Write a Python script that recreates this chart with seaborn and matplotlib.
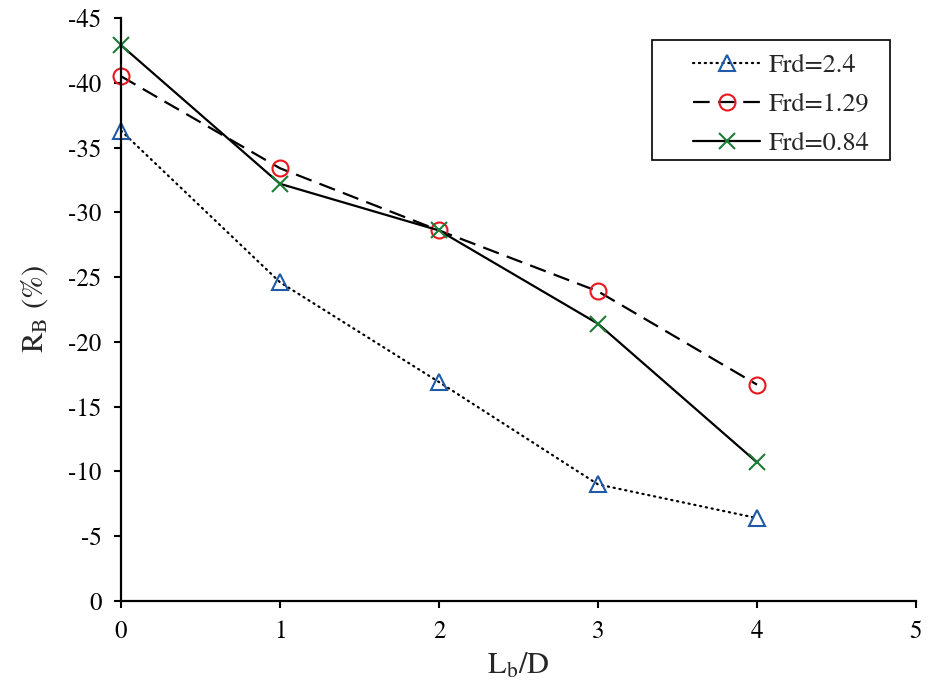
import matplotlib
matplotlib.use("Agg")
import matplotlib.pyplot as plt
from matplotlib.patches import Rectangle
import seaborn as sns
import pandas as pd

# Relative change of R_B with normalised length L_b/D
lb_d = [0, 1, 2, 3, 4]
rb_frd_2_4 = [-36.3, -24.6, -16.9, -9.0, -6.4]
rb_frd_1_29 = [-40.5, -33.4, -28.6, -23.9, -16.7]
rb_frd_0_84 = [-42.9, -32.2, -28.6, -21.4, -10.7]
series_labels = ["Frd=2.4", "Frd=1.29", "Frd=0.84"]
x_ticks = [0, 1, 2, 3, 4, 5]
y_ticks = [0, -5, -10, -15, -20, -25, -30, -35, -40, -45]

sns.set_style("ticks")
plt.rcParams["font.family"] = ["STIXGeneral", "DejaVu Serif"]
plt.rcParams["mathtext.fontset"] = "stix"

fig = plt.figure(figsize=(9.36, 6.86), dpi=100)
ax = fig.add_axes([0.1293, 0.1239, 0.8493, 0.8499])

styles = [
    dict(marker="^", mec="#1f5aa6", ls=(0, (0.55, 2.1)), dash_capstyle="round", ms=12),
    dict(marker="o", mec="#e8161e", ls=(0, (7.5, 3.8)), ms=11.5),
    dict(marker="x", mec="#1b7d36", ls="-", ms=12),
]
series = [rb_frd_2_4, rb_frd_1_29, rb_frd_0_84]

for vals, lab, st in zip(series, series_labels, styles):
    df = pd.DataFrame({"x": lb_d, "y": vals})
    ls = st.pop("ls")
    sns.lineplot(data=df, x="x", y="y", ax=ax, label=lab, color="black",
                 linewidth=1.6, linestyle=ls, markerfacecolor="none",
                 markeredgewidth=1.5, markeredgecolor=st.pop("mec"),
                 markersize=st.pop("ms"), clip_on=False, **st)

ax.set_xlim(0, 5)
ax.set_ylim(0, -45)
ax.set_xticks(x_ticks)
ax.set_yticks(y_ticks)
ax.set_xticklabels([str(v) for v in x_ticks])
ax.set_yticklabels([str(v) for v in y_ticks])
ax.tick_params(axis="both", labelsize=18, direction="out", length=5,
               width=1.5, color="black", labelcolor="black", pad=9)
for side in ["top", "right"]:
    ax.spines[side].set_visible(False)
for side in ["left", "bottom"]:
    ax.spines[side].set_linewidth(1.6)
    ax.spines[side].set_color("black")

ax.set_xlabel(r"L$_\mathrm{b}$/D", fontsize=22, labelpad=5)
ax.set_ylabel(r"R$_\mathrm{B}$ (%)", fontsize=22, labelpad=13)

# legend entries without the default frame, boxed by a plain rectangle
leg = ax.legend(loc="upper left", bbox_to_anchor=(0.703, 0.962), fontsize=19,
                frameon=False, handlelength=2.55, borderpad=0.0,
                labelspacing=0.55, handletextpad=0.3)
ax.add_patch(Rectangle((0.668, 0.756), 0.299, 0.206, transform=ax.transAxes,
                       fill=False, edgecolor="black", linewidth=1.2,
                       clip_on=False, zorder=5))

fig.savefig("out.png", dpi=100)
